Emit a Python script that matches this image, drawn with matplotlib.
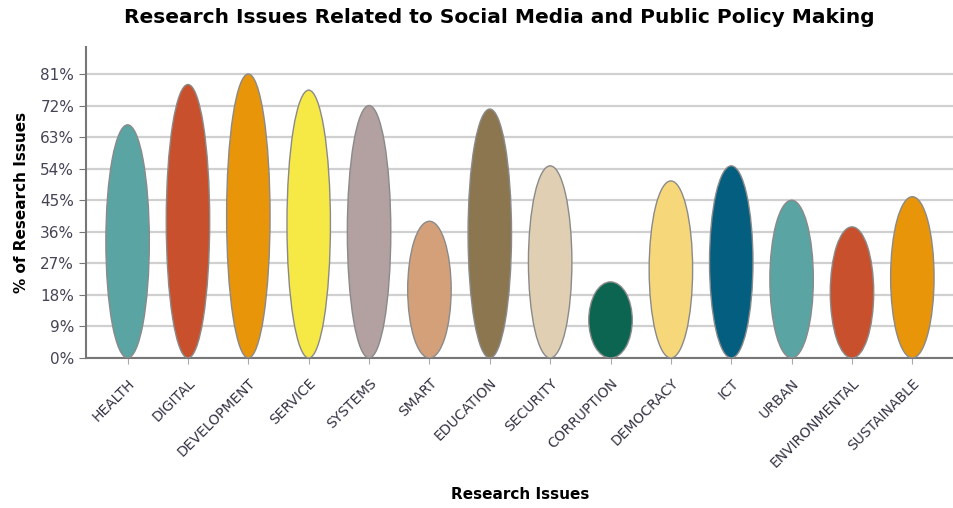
import matplotlib
matplotlib.use("Agg")
import matplotlib.pyplot as plt
from matplotlib.patches import Ellipse

# research issues and their share (%)
issues = ["HEALTH", "DIGITAL", "DEVELOPMENT", "SERVICE", "SYSTEMS", "SMART",
          "EDUCATION", "SECURITY", "CORRUPTION", "DEMOCRACY", "ICT", "URBAN",
          "ENVIRONMENTAL", "SUSTAINABLE"]
values = [66.5, 78, 81, 76.4, 72, 39, 71, 54.8, 21.7, 50.5, 54.8, 45, 37.4, 46]
colors = ["#5ba4a4", "#c9502d", "#e8950a", "#f6e845", "#b3a0a0", "#d4a07a",
          "#8b7650", "#e0cfb2", "#0b6550", "#f6d87a", "#045e80", "#5ba4a4",
          "#c9502d", "#e8950a"]
yticks = [0, 9, 18, 27, 36, 45, 54, 63, 72, 81]

fig = plt.figure(figsize=(9.54, 5.08), dpi=100)
ax = fig.add_axes([0.0901, 0.2953, 0.9099, 0.6122])

for i, (v, c) in enumerate(zip(values, colors)):
    ax.add_patch(Ellipse((i, v / 2), 0.72, v, facecolor=c,
                         edgecolor="#8a8a8a", linewidth=1, zorder=3))

ax.set_xlim(-0.69, 13.69)
ax.set_ylim(0, 88.7)
ax.set_yticks(yticks)
ax.set_yticklabels([f"{t}%" for t in yticks])
ax.set_xticks(range(len(issues)))
ax.set_xticklabels(issues, rotation=45, ha="right", rotation_mode="anchor")
ax.grid(axis="y", color="#d0d0d0", linewidth=1.6, zorder=0)
ax.set_axisbelow(True)

for s in ["top", "right"]:
    ax.spines[s].set_visible(False)
for s in ["left", "bottom"]:
    ax.spines[s].set_color("#777777")
    ax.spines[s].set_linewidth(1.5)
ax.tick_params(axis="y", colors="#777777", labelcolor="#444455", labelsize=11, length=5)
ax.tick_params(axis="x", colors="#aaaaaa", labelcolor="#333344", labelsize=10,
               length=4, pad=9)

ax.set_ylabel("% of Research Issues", fontsize=11, fontweight="bold", labelpad=8)
ax.set_xlabel("Research Issues", fontsize=11, fontweight="bold", labelpad=12)
fig.suptitle("Research Issues Related to Social Media and Public Policy Making",
             x=0.523, y=0.985, fontsize=14.5, fontweight="bold")

fig.savefig("out.png", dpi=100)
